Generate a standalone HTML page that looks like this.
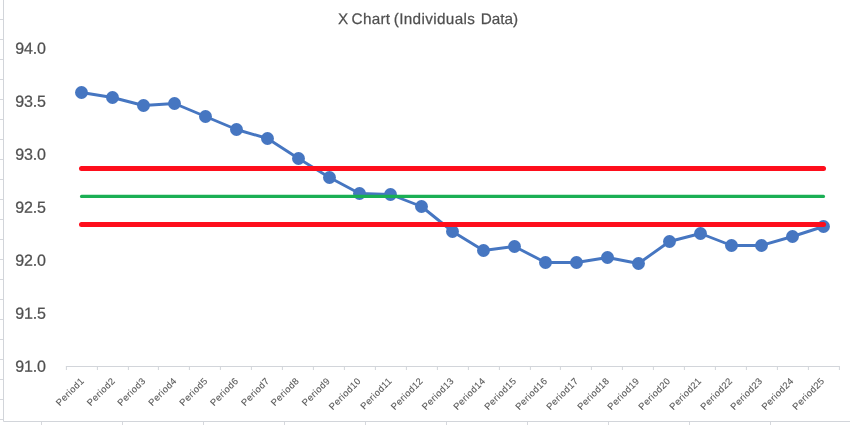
<!DOCTYPE html>
<html lang="en">
<head>
<meta charset="utf-8">
<title>X Chart (Individuals Data)</title>
<style>
html,body{margin:0;padding:0;background:#fff;}
body{width:850px;height:425px;overflow:hidden;}
svg{display:block;}
text{font-family:"Liberation Sans",sans-serif;fill:#595959;text-rendering:geometricPrecision;}
.yl text{font-size:16.05px;letter-spacing:-0.18px;stroke:#595959;stroke-width:0.25px;fill:#4e4e4e;}
.xl text{font-size:9.4px;letter-spacing:0.42px;stroke:#595959;stroke-width:0.1px;}
.title{font-size:15.3px;stroke:#595959;stroke-width:0.25px;fill:#4e4e4e;}
</style>
</head>
<body>
<svg width="850" height="425" viewBox="0 0 850 425">
<rect x="0" y="0" width="850" height="425" fill="#ffffff"/>
<g stroke="#D6D8DD" stroke-width="1" fill="none">
<line x1="0" y1="19.50" x2="3.5" y2="19.50"/>
<line x1="0" y1="39.50" x2="3.5" y2="39.50"/>
<line x1="0" y1="59.50" x2="3.5" y2="59.50"/>
<line x1="0" y1="79.50" x2="3.5" y2="79.50"/>
<line x1="0" y1="99.50" x2="3.5" y2="99.50"/>
<line x1="0" y1="119.50" x2="3.5" y2="119.50"/>
<line x1="0" y1="139.50" x2="3.5" y2="139.50"/>
<line x1="0" y1="159.50" x2="3.5" y2="159.50"/>
<line x1="0" y1="179.50" x2="3.5" y2="179.50"/>
<line x1="0" y1="199.50" x2="3.5" y2="199.50"/>
<line x1="0" y1="219.50" x2="3.5" y2="219.50"/>
<line x1="0" y1="239.50" x2="3.5" y2="239.50"/>
<line x1="0" y1="259.50" x2="3.5" y2="259.50"/>
<line x1="0" y1="279.50" x2="3.5" y2="279.50"/>
<line x1="0" y1="299.50" x2="3.5" y2="299.50"/>
<line x1="0" y1="319.50" x2="3.5" y2="319.50"/>
<line x1="0" y1="339.50" x2="3.5" y2="339.50"/>
<line x1="0" y1="359.50" x2="3.5" y2="359.50"/>
<line x1="0" y1="379.50" x2="3.5" y2="379.50"/>
<line x1="0" y1="399.50" x2="3.5" y2="399.50"/>
<line x1="0" y1="419.50" x2="3.5" y2="419.50"/>
<line x1="41.50" y1="421.5" x2="41.50" y2="425"/>
<line x1="122.50" y1="421.5" x2="122.50" y2="425"/>
<line x1="203.50" y1="421.5" x2="203.50" y2="425"/>
<line x1="284.50" y1="421.5" x2="284.50" y2="425"/>
<line x1="365.50" y1="421.5" x2="365.50" y2="425"/>
<line x1="446.50" y1="421.5" x2="446.50" y2="425"/>
<line x1="527.50" y1="421.5" x2="527.50" y2="425"/>
<line x1="608.50" y1="421.5" x2="608.50" y2="425"/>
<line x1="689.50" y1="421.5" x2="689.50" y2="425"/>
<line x1="770.50" y1="421.5" x2="770.50" y2="425"/>
<line x1="851.50" y1="421.5" x2="851.50" y2="425"/>
</g>
<path d="M3.5 0 V421.5 H850" stroke="#D2D5DA" stroke-width="1" fill="none"/>
<text class="title" y="24.4"><tspan x="338.00" style="letter-spacing:0.00px">X </tspan><tspan x="351.60" style="letter-spacing:0.27px">Chart </tspan><tspan x="393.70" style="letter-spacing:0.35px">(Individuals </tspan><tspan x="480.70" style="letter-spacing:0.00px">Data)</tspan></text>
<g class="yl" text-anchor="start">
<text transform="translate(15.20 53.65) rotate(0.05)">94.0</text>
<text transform="translate(15.20 106.65) rotate(0.05)">93.5</text>
<text transform="translate(15.20 159.65) rotate(0.05)">93.0</text>
<text transform="translate(15.20 212.65) rotate(0.05)">92.5</text>
<text transform="translate(15.20 265.65) rotate(0.05)">92.0</text>
<text transform="translate(15.20 318.65) rotate(0.05)">91.5</text>
<text transform="translate(15.20 371.65) rotate(0.05)">91.0</text>
</g>
<g stroke="#D2D5DA" stroke-width="1" fill="none">
<line x1="65.90" y1="366.50" x2="839.90" y2="366.50"/>
<line x1="66.40" y1="366.50" x2="66.40" y2="370.00"/>
<line x1="97.40" y1="366.50" x2="97.40" y2="370.00"/>
<line x1="128.40" y1="366.50" x2="128.40" y2="370.00"/>
<line x1="158.40" y1="366.50" x2="158.40" y2="370.00"/>
<line x1="189.40" y1="366.50" x2="189.40" y2="370.00"/>
<line x1="220.40" y1="366.50" x2="220.40" y2="370.00"/>
<line x1="251.40" y1="366.50" x2="251.40" y2="370.00"/>
<line x1="282.40" y1="366.50" x2="282.40" y2="370.00"/>
<line x1="313.40" y1="366.50" x2="313.40" y2="370.00"/>
<line x1="344.40" y1="366.50" x2="344.40" y2="370.00"/>
<line x1="375.40" y1="366.50" x2="375.40" y2="370.00"/>
<line x1="406.40" y1="366.50" x2="406.40" y2="370.00"/>
<line x1="437.40" y1="366.50" x2="437.40" y2="370.00"/>
<line x1="468.40" y1="366.50" x2="468.40" y2="370.00"/>
<line x1="499.40" y1="366.50" x2="499.40" y2="370.00"/>
<line x1="530.40" y1="366.50" x2="530.40" y2="370.00"/>
<line x1="560.40" y1="366.50" x2="560.40" y2="370.00"/>
<line x1="591.40" y1="366.50" x2="591.40" y2="370.00"/>
<line x1="622.40" y1="366.50" x2="622.40" y2="370.00"/>
<line x1="653.40" y1="366.50" x2="653.40" y2="370.00"/>
<line x1="684.40" y1="366.50" x2="684.40" y2="370.00"/>
<line x1="715.40" y1="366.50" x2="715.40" y2="370.00"/>
<line x1="746.40" y1="366.50" x2="746.40" y2="370.00"/>
<line x1="777.40" y1="366.50" x2="777.40" y2="370.00"/>
<line x1="808.40" y1="366.50" x2="808.40" y2="370.00"/>
<line x1="839.40" y1="366.50" x2="839.40" y2="370.00"/>
</g>
<g class="xl" text-anchor="end">
<text transform="translate(84.80 381.50) rotate(-45)">Period1</text>
<text transform="translate(115.80 381.50) rotate(-45)">Period2</text>
<text transform="translate(146.30 381.50) rotate(-45)">Period3</text>
<text transform="translate(177.30 381.50) rotate(-45)">Period4</text>
<text transform="translate(208.30 381.50) rotate(-45)">Period5</text>
<text transform="translate(239.00 381.50) rotate(-45)">Period6</text>
<text transform="translate(270.00 381.50) rotate(-45)">Period7</text>
<text transform="translate(299.80 381.50) rotate(-45)">Period8</text>
<text transform="translate(330.80 381.50) rotate(-45)">Period9</text>
<text transform="translate(361.60 381.50) rotate(-45)">Period10</text>
<text transform="translate(392.60 381.50) rotate(-45)">Period11</text>
<text transform="translate(423.60 381.50) rotate(-45)">Period12</text>
<text transform="translate(454.60 381.50) rotate(-45)">Period13</text>
<text transform="translate(486.05 381.50) rotate(-45)">Period14</text>
<text transform="translate(517.05 381.50) rotate(-45)">Period15</text>
<text transform="translate(548.05 381.50) rotate(-45)">Period16</text>
<text transform="translate(579.05 381.50) rotate(-45)">Period17</text>
<text transform="translate(610.05 381.50) rotate(-45)">Period18</text>
<text transform="translate(640.10 381.50) rotate(-45)">Period19</text>
<text transform="translate(671.10 381.50) rotate(-45)">Period20</text>
<text transform="translate(702.10 381.50) rotate(-45)">Period21</text>
<text transform="translate(733.10 381.50) rotate(-45)">Period22</text>
<text transform="translate(763.10 381.50) rotate(-45)">Period23</text>
<text transform="translate(794.30 381.50) rotate(-45)">Period24</text>
<text transform="translate(825.10 381.50) rotate(-45)">Period25</text>
</g>
<polyline points="81.50,92.50 112.50,97.50 143.50,105.50 174.50,103.50 205.50,116.50 236.50,129.50 267.50,138.50 298.50,158.50 329.50,177.50 359.50,193.50 390.50,194.50 421.50,206.50 452.50,231.50 483.50,250.50 514.50,246.50 545.50,262.50 576.50,262.50 607.50,257.50 638.50,263.50 669.50,241.50 700.50,233.50 731.50,245.50 761.50,245.50 792.50,236.50 823.50,226.50" fill="none" stroke="#4676C1" stroke-width="2.90" stroke-linejoin="round" stroke-linecap="round"/>
<g fill="#4676C1">
<circle cx="81.50" cy="92.50" r="6.45"/>
<circle cx="112.50" cy="97.50" r="6.45"/>
<circle cx="143.50" cy="105.50" r="6.45"/>
<circle cx="174.50" cy="103.50" r="6.45"/>
<circle cx="205.50" cy="116.50" r="6.45"/>
<circle cx="236.50" cy="129.50" r="6.45"/>
<circle cx="267.50" cy="138.50" r="6.45"/>
<circle cx="298.50" cy="158.50" r="6.45"/>
<circle cx="329.50" cy="177.50" r="6.45"/>
<circle cx="359.50" cy="193.50" r="6.45"/>
<circle cx="390.50" cy="194.50" r="6.45"/>
<circle cx="421.50" cy="206.50" r="6.45"/>
<circle cx="452.50" cy="231.50" r="6.45"/>
<circle cx="483.50" cy="250.50" r="6.45"/>
<circle cx="514.50" cy="246.50" r="6.45"/>
<circle cx="545.50" cy="262.50" r="6.45"/>
<circle cx="576.50" cy="262.50" r="6.45"/>
<circle cx="607.50" cy="257.50" r="6.45"/>
<circle cx="638.50" cy="263.50" r="6.45"/>
<circle cx="669.50" cy="241.50" r="6.45"/>
<circle cx="700.50" cy="233.50" r="6.45"/>
<circle cx="731.50" cy="245.50" r="6.45"/>
<circle cx="761.50" cy="245.50" r="6.45"/>
<circle cx="792.50" cy="236.50" r="6.45"/>
<circle cx="823.50" cy="226.50" r="6.45"/>
</g>
<line x1="81.50" y1="168.40" x2="823.50" y2="168.40" stroke="#FE0E1C" stroke-width="5" stroke-linecap="round"/>
<line x1="81.50" y1="196.40" x2="823.50" y2="196.40" stroke="#1AAF54" stroke-width="3.1" stroke-linecap="round"/>
<line x1="81.50" y1="224.60" x2="823.50" y2="224.60" stroke="#FE0E1C" stroke-width="5" stroke-linecap="round"/>
</svg>
</body>
</html>
